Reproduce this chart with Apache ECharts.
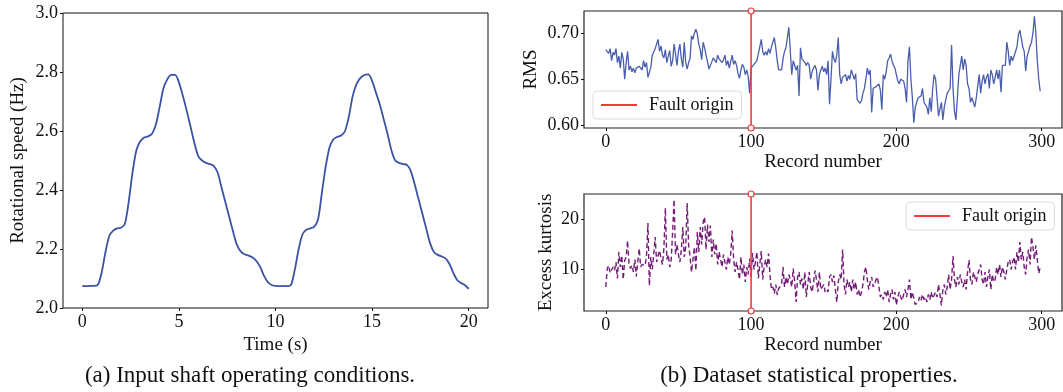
<!DOCTYPE html>
<html>
<head>
<meta charset="utf-8">
<script src="https://cdn.jsdelivr.net/npm/echarts@6/dist/echarts.min.js"></script>
<style>
html,body{margin:0;padding:0;background:#fff;}
#chart{width:1063px;height:392px;}
</style>
</head>
<body>
<div id="chart"></div>
<script>
// ---------- Data ----------
const timeS = [
  0.0,0.2,0.4,0.6,0.8,1.0,1.2,1.4,1.6,1.8,2.0,2.2,2.4,2.6,2.8,3.0,3.2,3.4,3.6,3.8,
  4.0,4.2,4.4,4.6,4.8,5.0,5.2,5.4,5.6,5.8,6.0,6.2,6.4,6.6,6.8,7.0,7.2,7.4,7.6,7.8,
  8.0,8.2,8.4,8.6,8.8,9.0,9.2,9.4,9.6,9.8,10.0,10.2,10.4,10.6,10.8,11.0,11.2,11.4,11.6,11.8,
  12.0,12.2,12.4,12.6,12.8,13.0,13.2,13.4,13.6,13.8,14.0,14.2,14.4,14.6,14.8,15.0,15.2,15.4,15.6,15.8,
  16.0,16.2,16.4,16.6,16.8,17.0,17.2,17.4,17.6,17.8,18.0,18.2,18.4,18.6,18.8,19.0,19.2,19.4,19.6,19.8,20.0
];
const speedHz = [
  2.075,2.074,2.075,2.075,2.078,2.12,2.19,2.245,2.262,2.27,2.272,2.285,2.36,2.46,2.535,2.565,2.578,2.582,2.59,2.62,
  2.68,2.745,2.775,2.79,2.79,2.765,2.72,2.67,2.615,2.56,2.515,2.5,2.492,2.488,2.482,2.46,2.41,2.36,2.31,2.26,
  2.215,2.192,2.182,2.178,2.172,2.16,2.14,2.11,2.088,2.078,2.075,2.074,2.075,2.074,2.078,2.13,2.2,2.25,2.265,2.27,
  2.275,2.3,2.39,2.48,2.545,2.572,2.58,2.585,2.6,2.65,2.72,2.76,2.78,2.79,2.792,2.77,2.73,2.69,2.64,2.59,
  2.535,2.5,2.492,2.488,2.485,2.465,2.42,2.37,2.32,2.27,2.22,2.19,2.18,2.175,2.168,2.15,2.12,2.095,2.085,2.078,2.065
];

const rmsValues = [
  0.682,0.681,0.678,0.683,0.670,0.679,0.676,0.683,0.668,0.675,
  0.662,0.679,0.672,0.650,0.668,0.680,0.660,0.664,0.658,0.662,
  0.657,0.662,0.660,0.664,0.666,0.660,0.670,0.663,0.668,0.652,
  0.650,0.663,0.676,0.678,0.683,0.688,0.693,0.680,0.686,0.676,
  0.673,0.682,0.668,0.675,0.681,0.664,0.670,0.688,0.677,0.665,
  0.680,0.688,0.672,0.663,0.690,0.668,0.661,0.668,0.672,0.697,
  0.693,0.700,0.704,0.699,0.688,0.682,0.671,0.690,0.684,0.676,
  0.669,0.661,0.660,0.669,0.673,0.671,0.668,0.676,0.672,0.674,
  0.668,0.671,0.676,0.665,0.670,0.662,0.660,0.676,0.666,0.670,
  0.665,0.656,0.651,0.660,0.666,0.663,0.655,0.660,0.653,0.635,
  0.662,0.660,0.666,0.664,0.670,0.668,0.685,0.693,0.680,0.676,
  0.680,0.676,0.683,0.678,0.685,0.690,0.695,0.684,0.670,0.660,
  0.662,0.660,0.672,0.680,0.684,0.682,0.706,0.680,0.655,0.670,
  0.668,0.660,0.665,0.632,0.684,0.672,0.670,0.668,0.665,0.668,
  0.665,0.650,0.658,0.662,0.665,0.660,0.638,0.655,0.660,0.664,
  0.658,0.662,0.655,0.670,0.623,0.650,0.680,0.672,0.668,0.676,
  0.695,0.655,0.645,0.652,0.650,0.655,0.648,0.654,0.650,0.660,
  0.655,0.650,0.656,0.628,0.626,0.624,0.627,0.635,0.640,0.650,
  0.662,0.655,0.660,0.614,0.640,0.638,0.642,0.640,0.645,0.638,
  0.617,0.655,0.650,0.658,0.670,0.673,0.677,0.670,0.665,0.662,
  0.655,0.648,0.645,0.650,0.652,0.648,0.640,0.625,0.670,0.685,
  0.650,0.630,0.603,0.620,0.625,0.630,0.628,0.632,0.640,0.625,
  0.625,0.620,0.612,0.630,0.615,0.640,0.655,0.650,0.648,0.610,
  0.618,0.625,0.606,0.620,0.628,0.635,0.636,0.640,0.687,0.640,
  0.615,0.606,0.630,0.655,0.665,0.675,0.660,0.672,0.665,0.645,
  0.640,0.625,0.630,0.628,0.620,0.630,0.632,0.655,0.635,0.648,
  0.655,0.645,0.652,0.656,0.640,0.660,0.655,0.645,0.652,0.660,
  0.650,0.660,0.636,0.665,0.666,0.665,0.690,0.680,0.665,0.675,
  0.670,0.672,0.680,0.685,0.698,0.703,0.703,0.685,0.680,0.659,
  0.675,0.680,0.686,0.690,0.700,0.718,0.700,0.670,0.650,0.637
];

const kurtosisValues = [
  6.5,10.2,10.8,9.3,9.0,10.5,9.8,11.5,8.2,13.5,
  10.5,12.8,8.0,11.8,12.5,15.8,11.0,10.2,10.8,9.5,
  12.0,8.6,11.5,14.2,10.5,11.0,11.2,10.8,12.5,19.3,
  6.8,12.5,10.0,13.0,16.5,11.5,12.8,13.8,12.2,11.0,
  14.2,22.3,12.0,13.0,10.5,11.8,17.5,24.0,13.0,15.0,
  13.0,11.5,14.0,18.5,12.5,14.5,23.3,15.0,12.5,9.5,
  12.0,14.5,9.8,17.5,13.5,18.5,15.0,19.5,20.5,14.0,
  19.0,15.5,18.8,12.5,16.0,13.0,15.2,11.0,13.5,12.0,
  10.5,13.0,11.5,10.0,12.5,11.0,13.2,17.8,12.0,9.5,
  11.5,10.0,8.0,12.5,9.0,11.0,7.5,10.5,9.0,12.2,
  8.5,13.3,10.0,11.5,13.5,8.2,11.0,13.7,8.0,10.5,
  12.0,10.5,13.2,9.0,6.0,6.5,5.2,7.0,4.9,6.2,
  5.8,7.0,10.5,6.5,8.5,7.0,9.0,8.0,6.5,10.2,
  7.5,3.5,8.5,9.5,7.0,8.2,6.0,9.5,4.5,7.0,
  9.5,6.5,5.5,7.5,9.8,8.0,5.5,9.5,6.0,6.5,
  7.0,5.5,6.0,5.5,8.5,9.0,7.5,8.8,6.0,3.5,
  7.5,9.0,8.0,14.0,7.0,5.0,8.0,6.5,7.5,5.5,
  8.0,6.0,7.5,5.0,6.0,4.5,5.5,7.0,9.5,10.5,
  8.0,6.0,7.5,8.5,6.5,7.0,8.0,8.5,6.5,4.5,
  5.0,4.0,5.5,4.5,6.0,3.5,5.0,6.0,4.0,5.5,
  2.9,4.5,5.5,4.5,3.8,5.0,6.0,4.5,6.0,8.0,
  4.0,5.5,4.2,3.0,2.8,3.5,4.5,3.8,5.0,4.0,
  4.5,3.5,5.0,4.0,5.5,4.2,3.8,5.5,4.5,7.0,
  5.0,2.8,6.0,7.0,5.0,6.5,9.0,6.0,8.0,12.7,
  8.0,6.5,8.5,7.0,9.0,7.5,6.5,8.0,6.0,9.5,
  11.9,8.0,7.0,9.5,8.5,7.5,9.0,10.0,11.0,8.0,
  7.0,9.5,6.5,8.5,10.0,6.0,9.0,7.5,8.0,10.5,
  9.0,11.0,8.5,10.5,9.5,8.0,10.0,11.5,12.0,10.0,
  11.5,12.5,10.0,13.5,11.5,15.5,12.0,13.5,10.5,9.0,
  12.5,14.0,11.0,16.5,14.5,12.0,14.8,12.0,9.2,10.5
];

const faultRecord = 100;

const timeTicks = [0, 5, 10, 15, 20];
const speedTicks = [2.0, 2.2, 2.4, 2.6, 2.8, 3.0];
const recordTicks = [0, 100, 200, 300];
const rmsTicks = [0.60, 0.65, 0.70];
const kurtosisTicks = [10, 20];

const captionA = '(a) Input shaft operating conditions.';
const captionB = '(b) Dataset statistical properties.';

// ---------- Styling / layout ----------
const SERIF = '"Liberation Serif", "DejaVu Serif", serif';
const RED = '#f23b3b';
const RMS_LIMITS = [0.5973, 0.7237];
const KURT_LIMITS = [1.7, 25.1];
const TICK_FS = 18, NAME_FS = 19;

function xAxisCfg(gridIndex, min, max, ticks, name, nameGap) {
  return {
    type: 'value', gridIndex, min, max,
    name, nameLocation: 'middle', nameGap,
    nameTextStyle: {fontFamily: SERIF, fontSize: NAME_FS, color: '#111'},
    axisLine: {show: false, onZero: false},
    axisTick: {show: true, inside: false, length: 3, customValues: ticks, lineStyle: {color: '#111'}},
    axisLabel: {customValues: ticks, margin: 5, fontFamily: SERIF, fontSize: TICK_FS, color: '#111'},
    splitLine: {show: false}
  };
}
function yAxisCfg(gridIndex, min, max, ticks, name, nameGap, digits) {
  return {
    type: 'value', gridIndex, min, max,
    name, nameLocation: 'middle', nameGap,
    nameTextStyle: {fontFamily: SERIF, fontSize: NAME_FS, color: '#111'},
    axisLine: {show: false, onZero: false},
    axisTick: {show: true, inside: false, length: 3, customValues: ticks, lineStyle: {color: '#111'}},
    axisLabel: {customValues: ticks, margin: 5, fontFamily: SERIF, fontSize: TICK_FS, color: '#111',
      formatter: v => Number(v).toFixed(digits)},
    splitLine: {show: false}
  };
}

const speedData = timeS.map((t, i) => [t, speedHz[i]]);
const rmsData = rmsValues.map((v, i) => [i, v]);
const kurtData = kurtosisValues.map((v, i) => [i, v]);

const faultSeries = (xi, yi, lims) => ({
  name: 'Fault origin', type: 'line', xAxisIndex: xi, yAxisIndex: yi,
  data: [[faultRecord, lims[0]], [faultRecord, lims[1]]],
  symbol: 'circle', symbolSize: 6, showSymbol: true, clip: false, z: 5,
  itemStyle: {color: '#fff', borderColor: RED, borderWidth: 1.2},
  lineStyle: {color: RED, width: 1.6}
});

const legendCfg = (pos) => Object.assign({
  data: ['Fault origin'], icon: 'rect', itemWidth: 36, itemHeight: 2, itemGap: 0,
  padding: [5, 8, 5, 8], backgroundColor: 'rgba(255,255,255,0.8)',
  borderColor: '#dcdcdc', borderWidth: 1, borderRadius: 4,
  itemStyle: {color: RED, borderWidth: 0},
  textStyle: {fontFamily: SERIF, fontSize: 18, color: '#111', padding: [0, 0, 0, 7]},
  selectedMode: false
}, pos);

const chart = echarts.init(document.getElementById('chart'), null, {renderer: 'canvas'});
chart.setOption({
  backgroundColor: '#fff',
  animation: false,
  grid: [
    {left: 63, top: 13, width: 425, height: 295, show: true, borderColor: '#111', borderWidth: 1, backgroundColor: 'transparent'},
    {left: 584, top: 11, width: 478, height: 117, show: true, borderColor: '#222', borderWidth: 1.2, backgroundColor: 'transparent'},
    {left: 584, top: 194, width: 478, height: 117, show: true, borderColor: '#222', borderWidth: 1.2, backgroundColor: 'transparent'}
  ],
  xAxis: [
    xAxisCfg(0, -1, 21, timeTicks, 'Time (s)', 27),
    xAxisCfg(1, -15, 314, recordTicks, 'Record number', 25),
    xAxisCfg(2, -15, 314, recordTicks, 'Record number', 25)
  ],
  yAxis: [
    yAxisCfg(0, 2.0, 3.0, speedTicks, 'Rotational speed (Hz)', 35, 1),
    yAxisCfg(1, RMS_LIMITS[0], RMS_LIMITS[1], rmsTicks, 'RMS', 43, 2),
    yAxisCfg(2, KURT_LIMITS[0], KURT_LIMITS[1], kurtosisTicks, 'Excess kurtosis', 28, 0)
  ],
  legend: [
    legendCfg({left: 593, top: 91}),
    legendCfg({left: 906, top: 202})
  ],
  series: [
    {name: 'Speed', type: 'line', xAxisIndex: 0, yAxisIndex: 0, data: speedData,
      showSymbol: false, smooth: 0.3, lineStyle: {color: '#3a53a4', width: 1.8}},
    {name: 'RMS', type: 'line', xAxisIndex: 1, yAxisIndex: 1, data: rmsData,
      showSymbol: false, lineStyle: {color: '#4a5eae', width: 1.3}},
    {name: 'Excess kurtosis', type: 'line', xAxisIndex: 2, yAxisIndex: 2, data: kurtData,
      showSymbol: false, lineStyle: {color: '#741c78', width: 1.4, type: [5, 3]}},
    faultSeries(1, 1, RMS_LIMITS),
    faultSeries(2, 2, KURT_LIMITS)
  ],
  graphic: [
    {type: 'text', x: 250, y: 376, style: {text: captionA, fontFamily: SERIF, fontSize: 23, fill: '#111', align: 'center', verticalAlign: 'middle'}},
    {type: 'text', x: 809, y: 376, style: {text: captionB, fontFamily: SERIF, fontSize: 23, fill: '#111', align: 'center', verticalAlign: 'middle'}}
  ]
});
</script>
</body>
</html>
